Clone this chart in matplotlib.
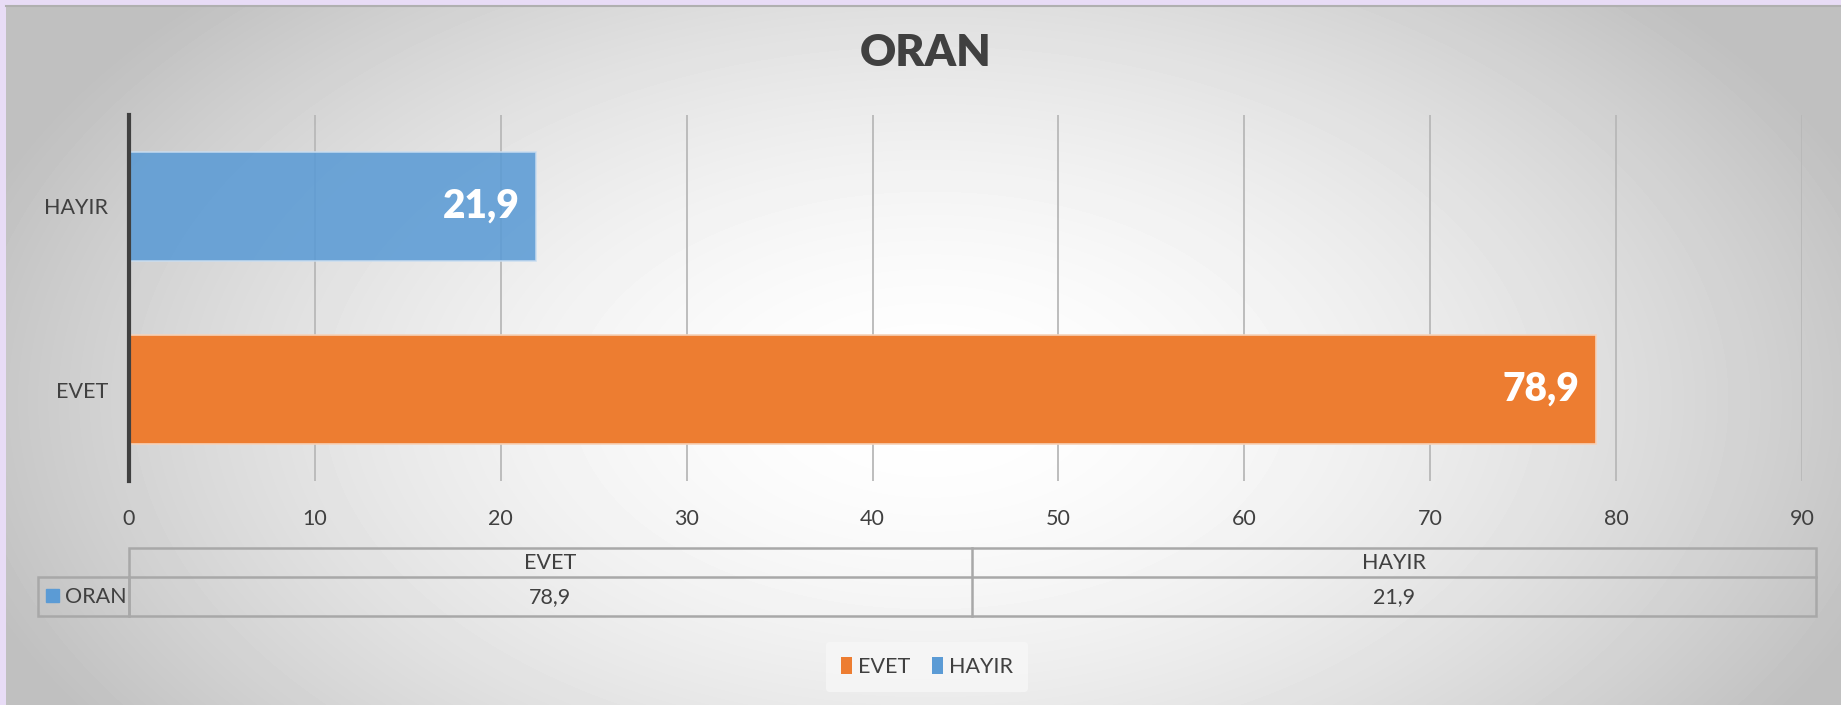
import numpy as np
import matplotlib.pyplot as plt
from matplotlib.patches import Patch, Rectangle

# ---- data ----
categories = ["EVET", "HAYIR"]
oran = [78.9, 21.9]
bar_colors = ["#ED7D31", "#5B9BD5"]
series_name = "ORAN"
x_ticks = [0, 10, 20, 30, 40, 50, 60, 70, 80, 90]

W, H = 1841, 705
TXT = "#404040"
plt.rcParams["font.family"] = ["Lato", "DejaVu Sans"]


def fmt(v):
    return f"{v:.1f}".replace(".", ",")


fig = plt.figure(figsize=(W / 100, H / 100), dpi=100, facecolor="#e8dcf6")

# background panel with radial gradient (pixel coords)
bg = fig.add_axes([0, 0, 1, 1], zorder=0)
bg.set_xlim(0, W)
bg.set_ylim(H, 0)
bg.axis("off")
xx, yy = np.meshgrid(np.arange(6, W), np.arange(5, H))
r = np.sqrt(((xx - 930) / 960.0) ** 2 + ((yy - 400) / 560.0) ** 2)
v = 1 - 0.23 * np.clip(r, 0, 1.05) ** 1.7
bg.imshow(v, cmap="gray", vmin=0, vmax=1, extent=(6, W, H, 5), aspect="auto")
bg.plot([6, W], [5.5, 5.5], color="#b0b0b0", lw=1.5)

# main bar chart
def fx(px):
    return px / W


def fy(py):
    return 1 - py / H


ax = fig.add_axes([fx(129), fy(481), fx(1802) - fx(129), fy(115) - fy(481)], zorder=2)
ax.patch.set_alpha(0)
y = np.arange(len(categories))
bars = ax.barh(y, oran, height=0.6, color=bar_colors, edgecolor="#f6d2b8", linewidth=1.2, zorder=3)
bars[1].set_alpha(0.88)
bars[1].set_edgecolor("#c9ddf0")
ax.set_xlim(0, 90)
ax.set_ylim(-0.5, 1.5)
ax.set_xticks(x_ticks)
ax.set_xticklabels([str(t) for t in x_ticks])
ax.set_yticks(y)
ax.set_yticklabels(categories)
ax.tick_params(axis="both", length=0, labelsize=15.5, colors=TXT)
ax.tick_params(axis="x", pad=20)
ax.tick_params(axis="y", pad=15)
ax.grid(axis="x", color="#b8b8b8", linewidth=1.3, zorder=1)
for s in ["top", "right", "bottom"]:
    ax.spines[s].set_visible(False)
ax.spines["left"].set_color("#404040")
ax.spines["left"].set_linewidth(3)
ax.spines["left"].set_zorder(4)

for yi, val in zip(y, oran):
    ax.annotate(fmt(val), (val, yi), xytext=(-12, 0), textcoords="offset points",
                ha="right", va="center", color="white", fontsize=28,
                fontweight="heavy", zorder=5)

fig.text(fx(926), fy(53), "ORAN", ha="center", va="center", fontsize=32,
         fontweight="heavy", color=TXT)

# data table (pixel coords overlay)
ov = fig.add_axes([0, 0, 1, 1], zorder=3)
ov.set_xlim(0, W)
ov.set_ylim(H, 0)
ov.axis("off")
lc, lw = "#a8a8a8", 1.8
col_x = [129, 972, 1816]
ov.add_patch(Rectangle((129, 548), 1816 - 129, 616 - 548, fill=False, ec=lc, lw=lw))
ov.add_patch(Rectangle((38, 577), 129 - 38, 616 - 577, fill=False, ec=lc, lw=lw))
ov.plot([129, 1816], [577, 577], color=lc, lw=lw)
ov.plot([972, 972], [548, 616], color=lc, lw=lw)
for i, (cat, val) in enumerate(zip(categories, oran)):
    cx = (col_x[i] + col_x[i + 1]) / 2
    ov.text(cx, 563, cat, ha="center", va="center", fontsize=15.5, color=TXT)
    ov.text(cx, 597, fmt(val), ha="center", va="center", fontsize=15.5, color=TXT)
ov.add_patch(Rectangle((46, 589), 13, 13, color=bar_colors[1]))
ov.text(65, 597, series_name, ha="left", va="center", fontsize=15.5, color=TXT)

# legend
handles = [Patch(facecolor=c, edgecolor="none") for c in bar_colors]
leg = fig.legend(handles, categories, loc="center", bbox_to_anchor=(fx(927), fy(667)),
                 ncol=2, frameon=True, fontsize=15.5, handlelength=0.5, handleheight=0.8,
                 handletextpad=0.3, columnspacing=1.0, borderpad=0.7)
leg.get_frame().set_facecolor("#f7f7f7")
leg.get_frame().set_edgecolor("none")
leg.get_frame().set_alpha(0.8)
leg.set_zorder(4)
for t in leg.get_texts():
    t.set_color(TXT)

fig.savefig("out.png", dpi=100, facecolor=fig.get_facecolor())
